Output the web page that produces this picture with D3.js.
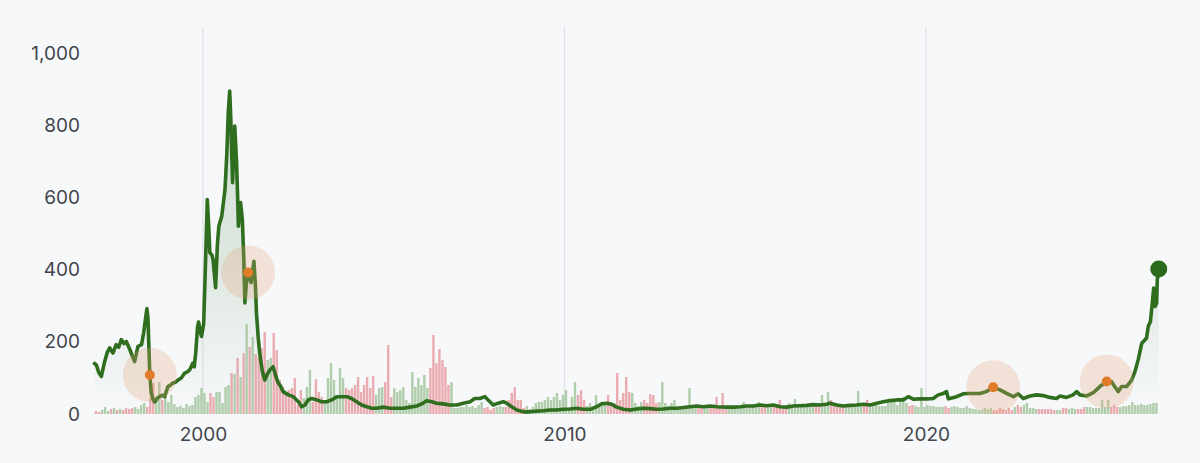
<!DOCTYPE html>
<html><head><meta charset="utf-8">
<script src="https://cdn.jsdelivr.net/npm/d3@7"></script>
<style>
html,body{margin:0;padding:0;background:#f7f8fa;}
svg{display:block;}
text{font-family:Inter,Lato,sans-serif;}
</style></head><body>
<svg id="c" width="1200" height="463"></svg>
<script>
// Price series (decimal year, value)
const priceDates = [
1997.00,1997.05,1997.12,1997.19,1997.28,1997.35,1997.42,1997.51,1997.60,1997.67,1997.74,1997.82,1997.88,1997.98,
1998.05,1998.11,1998.20,1998.30,1998.36,1998.42,1998.45,1998.48,1998.50,1998.53,1998.57,1998.62,1998.67,1998.74,1998.80,1998.88,1998.94,
1999.03,1999.10,1999.17,1999.24,1999.31,1999.40,1999.49,1999.56,1999.63,1999.68,1999.72,1999.76,1999.80,1999.85,1999.88,1999.92,1999.96,
2000.02,2000.08,2000.12,2000.16,2000.19,2000.25,2000.28,2000.35,2000.40,2000.44,2000.52,2000.61,2000.66,2000.70,2000.74,2000.77,2000.79,2000.82,2000.85,2000.88,2000.93,2000.96,2000.98,
2001.04,2001.09,2001.13,2001.16,2001.21,2001.25,2001.29,2001.33,2001.41,2001.45,2001.48,2001.53,2001.57,2001.64,2001.71,2001.78,2001.85,2001.94,
2002.00,2002.08,2002.13,2002.22,2002.36,2002.50,2002.64,2002.73,2002.82,2002.91,
2003.01,2003.15,2003.28,2003.42,2003.56,2003.70,2003.84,2003.98,
2004.11,2004.25,2004.39,2004.53,2004.67,2004.81,2004.99,
2005.17,2005.36,2005.54,2005.73,2005.91,
2006.05,2006.19,2006.33,2006.46,2006.65,2006.83,
2007.02,2007.20,2007.39,2007.52,2007.66,2007.80,2007.89,
2008.03,2008.17,2008.31,2008.40,2008.54,2008.68,2008.86,
2009.05,2009.23,2009.41,2009.60,2009.78,2009.97,
2010.15,2010.34,2010.52,2010.71,2010.89,
2011.03,2011.17,2011.31,2011.44,2011.63,2011.81,
2012.00,2012.18,2012.37,2012.55,2012.73,2012.92,
2013.10,2013.29,2013.47,2013.66,2013.84,
2014.03,2014.21,2014.49,2014.67,2014.86,
2015.04,2015.22,2015.41,2015.59,2015.78,2015.96,
2016.15,2016.33,2016.51,2016.70,2016.88,
2017.07,2017.25,2017.34,2017.53,2017.71,2017.90,
2018.08,2018.27,2018.45,2018.64,2018.82,
2019.00,2019.19,2019.37,2019.51,2019.65,2019.83,
2020.02,2020.20,2020.34,2020.48,2020.57,2020.62,2020.66,2020.85,
2021.03,2021.17,2021.49,2021.67,2021.86,
2022.05,2022.23,2022.42,2022.55,2022.69,2022.88,
2023.06,2023.24,2023.43,2023.61,2023.71,2023.89,
2024.07,2024.17,2024.26,2024.45,2024.63,2024.81,
2025.00,2025.13,2025.22,2025.32,2025.41,2025.55,2025.69,2025.78,2025.87,2025.97,
2026.10,2026.15,2026.21,2026.27,2026.30,2026.34,2026.38,2026.40,2026.44
];
const priceValues = [
140,136,115,104,145,170,183,169,192,185,206,195,201,178,
160,145,187,192,225,270,292,265,200,108,58,40,34,44,48,52,48,
76,80,86,88,94,100,113,116,122,132,141,131,170,240,255,230,215,
250,450,594,520,447,440,428,350,470,520,548,622,720,835,895,820,742,641,720,798,697,600,520,
586,539,430,308,372,392,378,364,423,360,280,210,169,120,94,110,122,131,
110,86,80,62,53,48,34,20,25,39,
43,39,34,34,39,48,48,48,
43,34,25,20,16,16,19,
16,16,16,19,22,
28,37,34,30,28,25,
25,30,34,43,43,48,39,
25,30,34,30,20,11,6,
6,8,9,11,11,13,
14,16,13,13,20,
28,30,27,19,13,11,
14,16,15,13,14,16,
16,18,20,22,20,
22,20,19,19,20,
22,22,25,23,25,20,
19,22,23,24,26,
25,27,30,25,22,24,
25,27,25,30,34,
37,39,39,48,41,42,
42,43,53,57,62,42,43,48,
56,57,57,62,74,
67,57,48,56,43,50,
53,51,46,43,50,46,
53,62,53,50,59,76,
90,90,76,62,76,76,94,117,150,196,
210,243,256,317,349,298,307,372,402
];
// Monthly volume, starting January 1997
const volumeStartYear = 1997;
const volumeValues = [
3,2,4,7,3,5,6,4,5,4,6,5,
6,7,5,9,11,7,16,31,17,32,14,17,
12,19,10,7,8,6,10,8,9,17,19,26,
21,12,21,17,22,22,11,27,29,41,40,56,
37,61,90,67,77,60,57,66,82,54,56,81,
64,34,27,22,24,26,36,9,24,16,27,44,
12,35,22,17,14,36,51,34,19,46,36,26,
24,26,29,37,22,29,37,26,38,19,26,27,
32,69,17,26,22,24,27,14,11,42,27,36,
29,39,26,46,79,51,65,54,47,29,32,6,
6,7,7,9,7,8,6,9,12,6,7,4,
6,7,8,7,7,14,21,27,14,14,6,8,
5,7,11,12,12,14,17,14,17,21,14,19,
24,6,17,32,19,24,14,8,11,7,19,8,
8,12,19,11,11,41,14,21,37,22,21,11,
8,12,14,11,20,19,11,12,32,11,8,11,
14,7,7,6,8,26,8,8,7,7,7,6,
7,8,17,8,21,6,7,8,8,7,7,12,
8,7,7,8,12,8,8,7,8,8,8,14,
8,7,11,7,15,8,7,8,7,8,8,8,
9,19,8,22,14,8,7,8,7,8,8,8,
8,23,8,9,14,8,9,9,8,8,8,11,
12,14,9,14,17,11,8,9,8,7,26,7,
9,8,8,7,7,7,8,6,7,8,7,6,
6,8,6,5,5,4,4,6,5,6,4,4,
6,5,4,6,4,7,9,7,9,11,6,6,
5,5,5,5,5,5,4,4,4,6,6,5,
6,5,5,5,7,7,7,6,6,6,14,7,
14,7,9,7,7,8,8,9,12,9,9,10,
9,9,10,11,11
];
const markerDates = [1998.53, 2001.25, 2021.86, 2025.00];
const markerValues = [108, 392, 74, 90];
const yTickValues = [0, 200, 400, 600, 800, 1000];
const xTickValues = [2000, 2010, 2020];

const svg = d3.select("#c");
const x = d3.scaleLinear().domain([1997, 2026.5]).range([94.5, 94.5 + 29.5 * 36.15]);
const y = d3.scaleLinear().domain([0, 1075]).range([414, 26]);
const yVol = d3.scaleLinear().domain([0, 100]).range([414, 314]);

const price = priceDates.map((d, i) => ({t: d, v: priceValues[i]}));
const bis = d3.bisector(d => d.t).left;
function priceAt(t) {
  const i = Math.max(1, Math.min(price.length - 1, bis(price, t)));
  const a = price[i - 1], b = price[i];
  const k = Math.max(0, Math.min(1, (t - a.t) / (b.t - a.t)));
  return a.v + (b.v - a.v) * k;
}

// gridlines
svg.append("g").selectAll("line").data(xTickValues).join("line")
  .attr("x1", d => x(d)).attr("x2", d => x(d))
  .attr("y1", 27).attr("y2", 414)
  .attr("stroke", "#d9dce1").attr("stroke-width", 1);

// gradient
const defs = svg.append("defs");
const grad = defs.append("linearGradient").attr("id", "ag")
  .attr("gradientUnits", "userSpaceOnUse").attr("x1", 0).attr("x2", 0).attr("y1", 26).attr("y2", 414);
grad.append("stop").attr("offset", 0).attr("stop-color", "#a8c4ab").attr("stop-opacity", 0.55);
grad.append("stop").attr("offset", 0.6).attr("stop-color", "#a8c4ab").attr("stop-opacity", 0.32);
grad.append("stop").attr("offset", 1).attr("stop-color", "#a8c4ab").attr("stop-opacity", 0.0);

// volume bars
const vol = volumeValues.map((v, i) => {
  const t0 = volumeStartYear + i / 12, t1 = volumeStartYear + (i + 1) / 12;
  return {t0, t1, v, up: priceAt(t1) >= priceAt(t0)};
});
svg.append("g").selectAll("rect").data(vol).join("rect")
  .attr("x", d => x(d.t0) + 0.3)
  .attr("width", d => x(d.t1) - x(d.t0) - 0.6)
  .attr("y", d => yVol(d.v))
  .attr("height", d => yVol(0) - yVol(d.v))
  .attr("fill", d => d.up ? "#a3c59d" : "#e79da3")
  .attr("opacity", 0.85);

// area + line
const area = d3.area().x(d => x(d.t)).y0(y(0)).y1(d => y(d.v));
svg.append("path").datum(price).attr("d", area).attr("fill", "url(#ag)");
const line = d3.line().x(d => x(d.t)).y(d => y(d.v));
svg.append("path").datum(price).attr("d", line)
  .attr("fill", "none").attr("stroke", "#2e6e1e").attr("stroke-width", 3.6)
  .attr("stroke-linejoin", "round").attr("stroke-linecap", "round");

// markers
const marks = markerDates.map((d, i) => ({t: d, v: markerValues[i]}));
svg.append("g").selectAll("circle").data(marks).join("circle")
  .attr("cx", d => x(d.t)).attr("cy", d => y(d.v)).attr("r", 27)
  .attr("fill", "#e2a679").attr("opacity", 0.28);
svg.append("g").selectAll("circle").data(marks).join("circle")
  .attr("cx", d => x(d.t)).attr("cy", d => y(d.v)).attr("r", 5)
  .attr("fill", "#e07b2a");

// end dot
const last = price[price.length - 1];
svg.append("circle").attr("cx", x(last.t)).attr("cy", y(last.v)).attr("r", 8.5).attr("fill", "#2a6a1c");

// axes
const yAxis = d3.axisLeft(y).tickValues(yTickValues).tickFormat(d3.format(",")).tickSize(0).tickPadding(14);
const gy = svg.append("g").attr("transform", "translate(94,0)").call(yAxis);
gy.select(".domain").remove();
gy.selectAll("text").attr("font-size", 19).attr("fill", "#41454c").style("font-family", "Inter, Lato, sans-serif");

const xAxis = d3.axisBottom(x).tickValues(xTickValues).tickFormat(d3.format("d")).tickSize(0).tickPadding(14);
const gx = svg.append("g").attr("transform", "translate(0,414)").call(xAxis);
gx.select(".domain").remove();
gx.selectAll("text").attr("font-size", 19).attr("fill", "#41454c").style("font-family", "Inter, Lato, sans-serif");
</script>
</body></html>
